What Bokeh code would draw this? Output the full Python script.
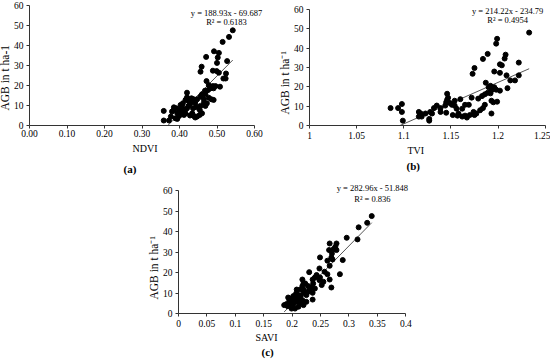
from bokeh.plotting import figure
from bokeh.models import Range1d, FixedTicker, Label, Title
from bokeh.layouts import column, row
from bokeh.embed import file_html
from bokeh.resources import INLINE

# ---------------- data ----------------
ndvi = [0.542,0.532,0.515,0.492,0.505,0.502,0.471,0.459,0.500,0.527,0.456,0.489,0.505,0.499,0.524,0.517,
        0.523,0.472,0.508,0.478,0.489,0.496,0.482,0.491,0.476,0.468,0.460,0.469,0.456,0.485,0.491,0.478,
        0.420,0.420,0.432,0.438,0.416,0.424,0.433,0.447,0.442,0.465,0.465,0.473,0.469,0.456,0.445,0.436,
        0.403,0.407,0.385,0.392,0.420,0.414,0.401,0.385,0.380,0.358,0.407,0.416,0.394,0.434,0.460,0.454,
        0.428,0.438,0.447,0.412,0.399,0.377,0.389,0.394,0.442,0.358,0.372,0.407,0.424,0.409,0.454,0.428]
agb_ndvi = [47.6,44.3,41.8,37.1,36.3,34.0,34.3,29.4,31.3,32.2,26.9,27.4,26.4,27.2,26.0,23.5,
            23.5,22.2,19.4,20.2,19.7,19.7,18.6,18.6,17.7,17.4,15.6,15.6,14.4,13.1,12.8,13.9,
            16.4,14.1,13.6,13.1,12.8,12.3,11.9,13.1,11.1,13.1,11.4,11.1,9.8,9.8,9.1,8.6,
            10.3,9.5,9.1,8.6,8.6,7.5,7.8,7.8,7.0,7.3,6.6,6.1,6.1,6.1,6.1,5.3,
            5.0,4.8,4.5,5.3,4.8,4.5,3.6,3.3,4.0,2.5,2.5,8.1,9.8,11.1,7.8,10.8]

tvi = [1.233,1.199,1.198,1.189,1.208,1.207,1.184,1.204,1.202,1.175,1.173,1.222,1.196,1.202,1.209,1.222,
       1.187,1.213,1.218,1.192,1.196,1.190,1.198,1.193,1.202,1.210,1.189,1.192,1.186,1.183,1.179,1.172,
       1.146,1.146,1.147,1.145,1.149,1.154,1.160,1.165,1.162,1.151,1.144,1.135,1.132,1.139,1.145,1.152,
       1.157,1.162,1.165,1.167,1.170,1.175,1.177,1.181,1.184,1.186,1.193,1.195,1.199,1.193,1.169,1.174,
       1.156,1.158,1.128,1.127,1.127,1.116,1.118,1.116,1.119,1.123,1.130,1.098,1.098,1.099,1.086,1.094,
       1.139,1.154]
agb_tvi = [48.0,44.8,42.3,37.0,36.6,34.6,34.4,31.1,31.6,29.7,26.7,32.5,27.9,27.2,25.9,25.9,
           22.1,23.3,23.3,20.5,19.8,19.8,18.5,18.2,18.0,19.3,16.9,16.6,16.1,15.2,13.9,14.4,
           16.4,13.3,14.3,12.0,11.6,12.8,13.6,10.7,8.7,10.7,10.3,10.3,9.0,7.0,6.6,5.4,
           5.1,4.6,5.1,4.1,5.4,5.4,6.2,7.9,9.0,10.7,12.8,12.0,12.3,6.2,10.7,7.0,
           8.7,6.2,7.0,2.5,3.4,7.0,6.2,4.6,4.6,6.2,6.2,11.1,7.0,2.5,9.0,9.0,
           9.0,10.3]

savi = [0.340,0.332,0.317,0.315,0.296,0.278,0.266,0.276,0.273,0.278,0.265,0.270,0.249,0.269,0.271,0.289,
        0.262,0.266,0.248,0.230,0.257,0.262,0.284,0.243,0.240,0.249,0.236,0.218,0.248,0.266,0.255,0.252,
        0.269,0.228,0.233,0.240,0.218,0.220,0.208,0.214,0.231,0.236,0.220,0.225,0.207,0.211,0.202,0.215,
        0.193,0.199,0.205,0.211,0.236,0.218,0.195,0.201,0.207,0.214,0.225,0.186,0.192,0.196,0.202,0.190,
        0.199,0.205,0.211,0.220,0.208,0.228,0.223,0.220,0.237]
agb_savi = [47.6,44.3,42.1,36.2,37.0,34.2,34.2,32.6,31.5,31.0,31.0,29.3,27.4,27.4,26.4,26.1,
            25.8,23.3,22.0,20.2,20.4,19.2,19.2,18.8,17.6,17.6,16.6,16.6,16.3,16.6,15.5,13.9,
            12.7,13.4,12.7,12.2,13.4,11.7,11.7,11.7,11.4,10.1,10.1,9.0,9.8,9.0,8.5,8.5,
            7.8,7.3,6.8,6.8,6.8,6.5,6.2,5.7,5.7,5.2,5.7,4.1,3.6,4.6,4.6,4.6,
            2.4,2.4,3.3,4.1,7.8,10.6,14.7,14.7,14.7]

y_ticks = [0, 10, 20, 30, 40, 50, 60]
ndvi_ticks = [0.0, 0.1, 0.2, 0.3, 0.4, 0.5, 0.6]
ndvi_tick_labels = ["0.00", "0.10", "0.20", "0.30", "0.40", "0.50", "0.60"]
tvi_ticks = [1.0, 1.05, 1.1, 1.15, 1.2, 1.25]
tvi_tick_labels = ["1", "1.05", "1.1", "1.15", "1.2", "1.25"]
savi_ticks = [0.0, 0.05, 0.1, 0.15, 0.2, 0.25, 0.3, 0.35, 0.4]
savi_tick_labels = ["0", "0.05", "0.1", "0.15", "0.2", "0.25", "0.3", "0.35", "0.4"]

fit_ndvi = (188.93, -69.687)
fit_tvi = (214.22, -234.79)
fit_savi = (282.96, -51.848)

FONT = "Liberation Serif"


def panel(xs, ys, xr, xbounds, ytop, xticks, xlabels, fit, eq, r2, xtitle, ytitle, tag, geom, pos, offs,
          stand, margin=None):
    w, h, bl, br, bt, bb = geom
    p = figure(width=w, height=h,
               min_border_left=bl, min_border_right=br, min_border_top=bt, min_border_bottom=bb,
               x_range=Range1d(*xr), y_range=Range1d(0, ytop),
               output_backend="svg", toolbar_location=None)
    if margin is not None:
        p.margin = margin
    p.outline_line_color = None
    p.xgrid.visible = False
    p.ygrid.visible = False
    for ax in (p.xaxis[0], p.yaxis[0]):
        ax.axis_line_color = "#333333"
        ax.major_tick_line_color = "#333333"
        ax.major_tick_in = 0
        ax.major_tick_out = 3
        ax.minor_tick_line_color = None
        ax.major_label_text_font = FONT
        ax.major_label_text_font_size = "9.5px"
        ax.major_label_text_color = "black"
    lab_sd, xt_sd, tag_sd = stand
    p.xaxis.ticker = FixedTicker(ticks=xticks)
    p.xaxis.major_label_overrides = {t: l for t, l in zip(xticks, xlabels)}
    p.xaxis.major_label_standoff = lab_sd
    p.xaxis.bounds = xbounds
    p.yaxis.ticker = FixedTicker(ticks=y_ticks)
    p.yaxis.major_label_standoff = 3
    p.yaxis.bounds = (0, 60)

    slope, icpt = fit
    xa = max(min(xs), -icpt / slope)
    xb = max(xs)
    p.line([xa, xb], [slope * xa + icpt, slope * xb + icpt], line_color="#555555", line_width=1)
    p.scatter(xs, ys, size=5, fill_color="black", line_color="black")

    eqx, eqy1, eqy2 = pos
    for txt, yv in ((eq, eqy1), (r2, eqy2)):
        p.add_layout(Label(x=eqx, y=yv, text=txt, text_font=FONT, text_font_size="8.5px",
                           text_align="center", text_baseline="middle", text_color="black"))

    off_x, off_tag, off_y = offs
    p.add_layout(Title(text=xtitle, align="left", offset=off_x, standoff=xt_sd,
                       text_font=FONT, text_font_size="10px", text_font_style="normal",
                       text_color="black"), "below")
    p.add_layout(Title(text=tag, align="left", offset=off_tag, standoff=tag_sd,
                       text_font=FONT, text_font_size="11px", text_font_style="bold",
                       text_color="black"), "below")
    p.add_layout(Title(text=ytitle, align="left", offset=off_y, standoff=0,
                       text_font=FONT, text_font_size="11.5px", text_font_style="normal",
                       text_color="black"), "left")
    return p


pa = panel(ndvi, agb_ndvi, (0, 0.632), (0, 0.6), 60, ndvi_ticks, ndvi_tick_labels, fit_ndvi,
           "y = 188.93x - 69.687", "R\u00b2 = 0.6183", "NDVI", "AGB in t ha-1", "(a)",
           (278, 180, 37, 4, 5, 54),
           (0.5253, 56.2, 51.7), (103, 94, 15), (1, 2, 12), margin=(0, 0, 0, -8))
pb = panel(tvi, agb_tvi, (1, 1.2514), (1, 1.25), 62, tvi_ticks, tvi_tick_labels, fit_tvi,
           "y = 214.22x - 234.79", "R\u00b2 = 0.4954", "TVI", "AGB in t ha\u207b\u00b9", "(b)",
           (280, 180, 39, 4, 2, 52),
           (1.2102, 59.2, 54.3), (98, 97, 11), (3, 2, 2))
pc = panel(savi, agb_savi, (0, 0.41), (0, 0.4), 64, savi_ticks, savi_tick_labels, fit_savi,
           "y = 282.96x - 51.848", "R\u00b2 = 0.836", "SAVI", "AGB in t ha\u207b\u00b9", "(c)",
           (550, 182, 178, 139, 2, 49),
           (0.3412, 61.2, 55.9), (77, 83, 14), (3, 0, 2))

layout = column(row(pa, pb), pc)

open("out.html", "w").write(file_html(layout, INLINE))
